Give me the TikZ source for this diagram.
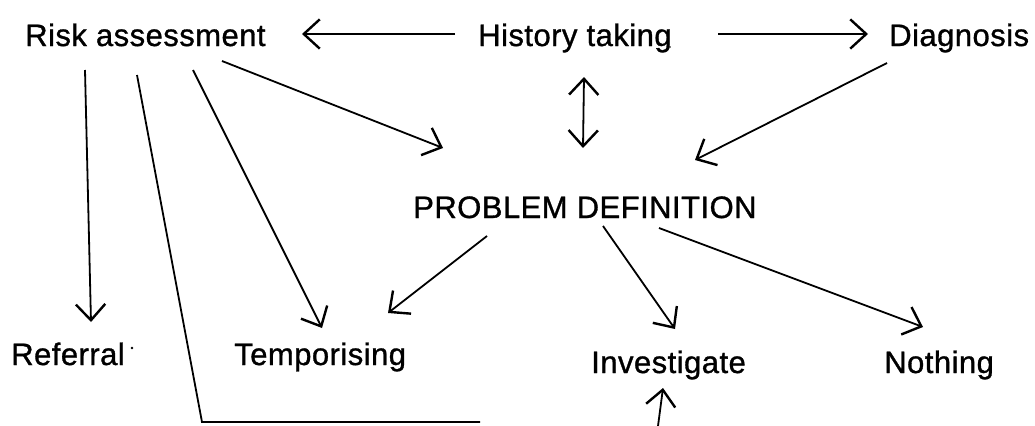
\documentclass[tikz,border=0pt]{standalone}
\usepackage{fontspec}
\setmainfont{Liberation Sans}[LetterSpace=1.5,FakeBold=1.0]
\usetikzlibrary{arrows.meta,calc}

\begin{document}
\begin{tikzpicture}[x=0.75pt,y=-0.75pt,
    label/.style={inner sep=0pt,anchor=base west,font=\fontsize{23.25pt}{28pt}\selectfont},
    link/.style={line width=1.35pt},
    barb/.style={-{Straight Barb[length=12pt,width=22pt,line width=1.8pt]}},
    dbarb/.style={{Straight Barb[length=12pt,width=22pt,line width=1.8pt]}-{Straight Barb[length=12pt,width=22pt,line width=1.8pt]}}]

  % page
  \fill[white] (0,0) rectangle (1035,425);
  \useasboundingbox (0,0) rectangle (1035,425);

  % labels
  \node[label] (risk) at (25,46)  {Risk assessment};
  \node[label] (hist) at (478,46) {History taking};
  \node[label] (diag) at (889,46) {Diagnosis};
  \node[label] (prob) at (413,218) {PROBLEM DEFINITION};
  \node[label] (refl) at (11,365) {Referral};
  \node[label] (temp) at (234,365) {Temporising};
  \node[label] (inv)  at (591,373) {Investigate};
  \node[label] (noth) at (884,373) {Nothing};

  % specks beside two labels
  \fill ($(refl.base west)+(121,-17)$) circle[radius=1.3];
  \fill ($(hist.base west)+(192,1)$) circle[radius=0.9];

  % top row
  \draw[link,barb] ($(hist.base west)+(-23,-12)$) -- ($(risk.base west)+(277,-12)$);
  \draw[link,barb] ($(hist.base west)+(240,-12)$) -- ($(diag.base west)+(-21,-12)$);
  \draw[link,dbarb] ($(hist.base west)+(106,31)$) -- ($(prob.base west)+(170,-70)$);

  % into the problem definition
  \draw[link,barb] ($(diag.base west)+(-2,17)$) -- ($(prob.base west)+(282,-58)$);
  \draw[link,barb] ($(risk.base west)+(197,15)$) -- ($(prob.base west)+(30,-70)$);

  % from risk assessment
  \draw[link,barb] ($(risk.base west)+(60,24)$) -- ($(refl.base west)+(80,-43)$);
  \draw[link,barb] ($(risk.base west)+(168,24)$) -- ($(temp.base west)+(88,-37)$);
  \coordinate (corner) at ($(risk.base west)+(177,376)$);
  \coordinate (runout) at ($(inv.base west)+(-111,49)$);
  \draw[link] ($(risk.base west)+(112,29)$) -- (corner) -- (runout);

  % from the problem definition
  \draw[link,barb] ($(prob.base west)+(74,18)$) -- ($(temp.base west)+(154,-52)$);
  \draw[link,barb] ($(prob.base west)+(190,8)$) -- ($(inv.base west)+(84,-44)$);
  \draw[link,barb] ($(prob.base west)+(246,10)$) -- ($(noth.base west)+(39,-46)$);

  % from below into investigate
  \coordinate (below) at ($(inv.base west)+(67,53)$);
  \draw[link,barb] (below) -- ($(inv.base west)+(72,15)$);
\end{tikzpicture}
\end{document}
